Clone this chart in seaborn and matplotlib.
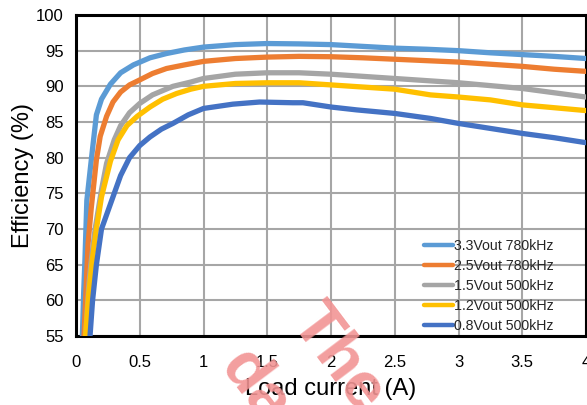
import matplotlib
matplotlib.use("Agg")
import matplotlib.pyplot as plt
import seaborn as sns
import pandas as pd

# ---- data ----
series_names = ["3.3Vout 780kHz", "2.5Vout 780kHz", "1.5Vout 500kHz",
                "1.2Vout 500kHz", "0.8Vout 500kHz"]
colors = ["#5B9BD5", "#ED7D31", "#A5A5A5", "#FFC000", "#4472C4"]

x_33 = [0.05, 0.06, 0.07, 0.085, 0.12, 0.16, 0.2, 0.27, 0.35, 0.45, 0.58, 0.71, 0.85, 1.0,
        1.25, 1.5, 1.75, 2.0, 2.25, 2.5, 2.75, 3.0, 3.25, 3.5, 3.75, 4.0]
y_33 = [55, 61, 65.6, 74, 79.7, 86.0, 88.2, 90.3, 91.9, 93.0, 94.0, 94.6, 95.1, 95.5,
        95.85, 96.0, 95.95, 95.85, 95.6, 95.35, 95.2, 95.0, 94.7, 94.45, 94.2, 93.9]

x_25 = [0.063, 0.08, 0.095, 0.12, 0.16, 0.19, 0.24, 0.29, 0.35, 0.42, 0.5, 0.6, 0.71, 0.85,
        1.0, 1.25, 1.5, 1.75, 2.0, 2.25, 2.5, 2.75, 3.0, 3.25, 3.5, 3.75, 4.0]
y_25 = [55, 62, 68, 73, 79.7, 83.0, 85.8, 87.8, 89.2, 90.2, 90.9, 91.8, 92.5, 93.0,
        93.5, 93.9, 94.1, 94.2, 94.15, 94.0, 93.8, 93.6, 93.4, 93.1, 92.8, 92.4, 92.1]

x_15 = [0.075, 0.1, 0.12, 0.15, 0.2, 0.24, 0.3, 0.35, 0.42, 0.5, 0.6, 0.76, 0.9, 1.0,
        1.25, 1.5, 1.75, 2.0, 2.25, 2.5, 2.75, 3.0, 3.25, 3.5, 3.75, 4.0]
y_15 = [55, 62, 65.6, 70, 75.5, 79.2, 82.5, 84.5, 86.3, 87.6, 88.8, 90.0, 90.6, 91.1,
        91.7, 91.9, 91.9, 91.7, 91.4, 91.1, 90.8, 90.5, 90.1, 89.7, 89.1, 88.5]

x_12 = [0.075, 0.1, 0.13, 0.16, 0.2, 0.27, 0.33, 0.4, 0.48, 0.58, 0.68, 0.79, 0.9, 1.0,
        1.25, 1.5, 1.75, 2.0, 2.25, 2.5, 2.78, 3.0, 3.25, 3.5, 3.69, 4.0]
y_12 = [55, 61, 66, 70, 74.5, 79.5, 82.5, 84.5, 85.8, 87.1, 88.2, 89.0, 89.6, 90.0,
        90.4, 90.5, 90.5, 90.2, 89.9, 89.6, 88.8, 88.5, 88.1, 87.4, 87.1, 86.6]

x_08 = [0.11, 0.13, 0.16, 0.2, 0.29, 0.35, 0.42, 0.5, 0.58, 0.67, 0.76, 0.88, 1.0, 1.23,
        1.44, 1.7, 1.78, 2.0, 2.2, 2.5, 2.78, 3.0, 3.25, 3.5, 3.75, 4.0]
y_08 = [55, 60, 65, 70, 74.5, 77.5, 80.0, 81.7, 82.9, 84.0, 84.8, 86.0, 86.9, 87.5,
        87.8, 87.7, 87.7, 87.1, 86.7, 86.2, 85.5, 84.8, 84.1, 83.4, 82.8, 82.1]

xticks = [0, 0.5, 1, 1.5, 2, 2.5, 3, 3.5, 4]
xtick_labels = ["0", "0.5", "1", "1.5", "2", "2.5", "3", "3.5", "4"]
yticks = [55, 60, 65, 70, 75, 80, 85, 90, 95, 100]
ytick_labels = ["55", "60", "65", "70", "75", "80", "85", "90", "95", "100"]

xs = [x_33, x_25, x_15, x_12, x_08]
ys = [y_33, y_25, y_15, y_12, y_08]
frames = []
for name, xv, yv in zip(series_names, xs, ys):
    frames.append(pd.DataFrame({"Load": xv, "Eff": yv, "Series": name}))
df = pd.concat(frames, ignore_index=True)

# ---- plot ----
sns.set_theme(style="white")
plt.rcParams["font.family"] = ["Liberation Sans", "DejaVu Sans"]

fig = plt.figure(figsize=(5.87, 4.05), dpi=100)
ax = fig.add_axes([76 / 587, 1 - 336 / 405, 510 / 587, 321 / 405])

sns.lineplot(data=df, x="Load", y="Eff", hue="Series", hue_order=series_names,
             palette=colors, linewidth=3.8, sort=False, estimator=None,
             ax=ax, legend=True, zorder=3)
for ln in ax.get_lines():
    ln.set_solid_capstyle("round")
    ln.set_solid_joinstyle("round")

ax.set_xlim(0, 4)
ax.set_ylim(55, 100)
ax.set_xticks(xticks)
ax.set_xticklabels(xtick_labels)
ax.set_yticks(yticks)
ax.set_yticklabels(ytick_labels)
ax.tick_params(axis="both", length=0, labelsize=12, colors="black")
ax.tick_params(axis="x", pad=13.5)
ax.tick_params(axis="y", pad=9)
ax.grid(True, color="#A6A6A6", linewidth=1.5, zorder=0)
ax.set_axisbelow(True)
for sp in ax.spines.values():
    sp.set_color("black")
    sp.set_linewidth(2.2)
    sp.set_visible(True)

ax.set_xlabel("Load current (A)", fontsize=17, color="black")
ax.set_ylabel("Efficiency (%)", fontsize=17, color="black")
ax.xaxis.set_label_coords(0.5, -0.131)
ax.yaxis.set_label_coords(-0.082, 0.5)

leg = ax.legend(loc="lower right", bbox_to_anchor=(0.94, 0.005), frameon=False,
                prop={"size": 10.2},
                handlelength=2.0, handletextpad=0.1,
                labelspacing=0.42, borderaxespad=0, borderpad=0.1)
for h in leg.get_lines():
    h.set_linewidth(3.2)
    h.set_solid_capstyle("round")

# watermark
fig.text(303 / 587, 1 - 311 / 405, "The", rotation=-53, rotation_mode="anchor",
         ha="left", va="center", fontsize=47, fontweight="bold",
         color="#F29494", alpha=0.9, zorder=10)
fig.text(232 / 587, 1 - 356 / 405, "data", rotation=-53, rotation_mode="anchor",
         ha="left", va="center", fontsize=47, fontweight="bold",
         color="#F29494", alpha=0.9, zorder=10)

fig.savefig("out.png", dpi=100)
